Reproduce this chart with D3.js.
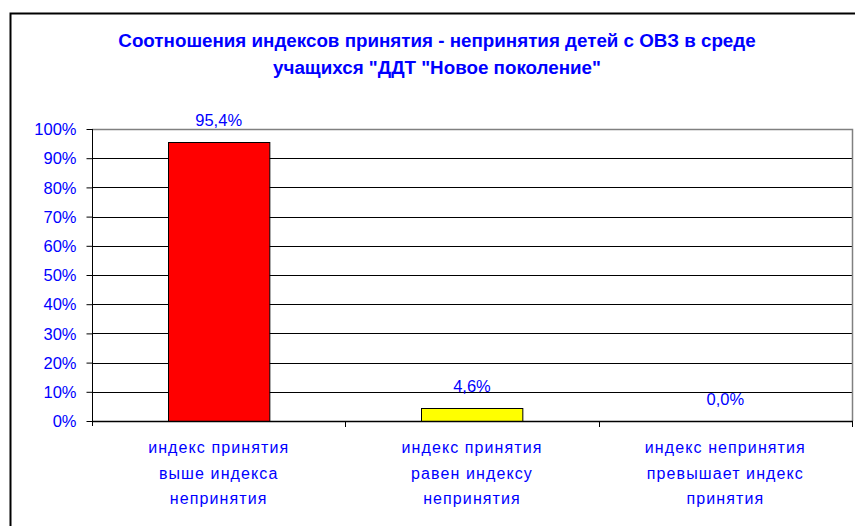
<!DOCTYPE html>
<html>
<head>
<meta charset="utf-8">
<script src="https://cdn.jsdelivr.net/npm/d3@7"></script>
<style>
  body { margin: 0; background: #fff; }
  text { font-family: "Liberation Sans", Arial, sans-serif; fill: #0000ff; }
</style>
</head>
<body>
<div id="chart"></div>
<script>
// chart data
const categories = [
    ["индекс принятия", "выше индекса", "непринятия"],
    ["индекс принятия", "равен индексу", "непринятия"],
    ["индекс непринятия", "превышает индекс", "принятия"]
];
const values = [95.4, 4.6, 0.0];
const barColors = ["#ff0000", "#ffff00", "#ffff00"];
const yTicks = [0, 10, 20, 30, 40, 50, 60, 70, 80, 90, 100];
const titleLines = [
    "Соотношения индексов принятия - непринятия детей с ОВЗ в среде",
    "учащихся \"ДДТ \"Новое поколение\""
];

const width = 855;
const height = 526;
const plot = { left: 92, right: 852, top: 129, bottom: 421 };

const svg = d3.select("#chart")
    .append("svg")
    .attr("width", width)
    .attr("height", height);

// outer chart frame (runs off the right/bottom edge)
svg.append("rect")
    .attr("x", 10.5).attr("y", 13.5)
    .attr("width", 870).attr("height", 540)
    .attr("fill", "none")
    .attr("stroke", "#000")
    .attr("stroke-width", 2);

// title
svg.selectAll(".title")
    .data(titleLines)
    .enter()
    .append("text")
    .attr("class", "title")
    .attr("x", 437)
    .attr("y", (d, i) => 47 + i * 27)
    .attr("text-anchor", "middle")
    .attr("font-size", 18.8)
    .attr("font-weight", "bold")
    .text(d => d);

const x = d3.scaleBand()
    .domain(d3.range(categories.length))
    .range([plot.left, plot.right])
    .paddingInner(0.6)
    .paddingOuter(0.3);

const xOuter = d3.scaleBand()
    .domain(d3.range(categories.length))
    .range([plot.left, plot.right]);

const y = d3.scaleLinear()
    .domain([0, 100])
    .range([plot.bottom, plot.top]);

// gridlines
svg.selectAll(".grid")
    .data(yTicks.filter(t => t > 0 && t < 100))
    .enter()
    .append("line")
    .attr("x1", plot.left).attr("x2", plot.right)
    .attr("y1", d => Math.round(y(d)) + 0.5)
    .attr("y2", d => Math.round(y(d)) + 0.5)
    .attr("stroke", "#000");

// plot area border (top + right, grey)
svg.append("path")
    .attr("d", `M${plot.left},${plot.top + 0.5}H${plot.right + 0.5}V${plot.bottom}`)
    .attr("fill", "none")
    .attr("stroke", "#808080")
    .attr("stroke-width", 1.5);

// bars
svg.selectAll(".bar")
    .data(values)
    .enter()
    .append("rect")
    .attr("class", "bar")
    .attr("x", (d, i) => Math.round(x(i)) + 0.5)
    .attr("width", x.bandwidth())
    .attr("y", d => Math.round(y(d)) + 0.5)
    .attr("height", d => plot.bottom - Math.round(y(d)))
    .attr("fill", (d, i) => barColors[i])
    .attr("stroke", "#000")
    .attr("stroke-width", 1)
    .attr("visibility", d => d > 0 ? "visible" : "hidden");

// value labels
svg.selectAll(".val")
    .data(values)
    .enter()
    .append("text")
    .attr("x", (d, i) => x(i) + x.bandwidth() / 2)
    .attr("y", d => y(d) - 16)
    .attr("text-anchor", "middle")
    .attr("font-size", 16.5)
    .text(d => d.toFixed(1).replace(".", ",") + "%");

// y axis
const yAxis = svg.append("g")
    .attr("transform", `translate(${plot.left + 0.5},0)`)
    .call(d3.axisLeft(y).tickValues(yTicks).tickSize(6).tickPadding(10)
        .tickFormat(d => d + "%"));
yAxis.select(".domain").attr("d", `M0,${plot.top}V${plot.bottom + 5}`).attr("stroke", "#000");
yAxis.selectAll(".tick line").attr("stroke", "#000");
yAxis.selectAll(".tick text")
    .attr("font-size", 16.5)
    .attr("font-family", "Liberation Sans, Arial, sans-serif")
    .attr("fill", "#0000ff")
    .attr("dy", "0.35em");

// x axis
svg.append("line")
    .attr("x1", plot.left).attr("x2", plot.right + 1)
    .attr("y1", plot.bottom + 0.5).attr("y2", plot.bottom + 0.5)
    .attr("stroke", "#000").attr("stroke-width", 1.5);

svg.selectAll(".xtick")
    .data(d3.range(1, categories.length + 1))
    .enter()
    .append("line")
    .attr("x1", d => Math.round(plot.left + d * xOuter.bandwidth()) + 0.5)
    .attr("x2", d => Math.round(plot.left + d * xOuter.bandwidth()) + 0.5)
    .attr("y1", plot.bottom).attr("y2", plot.bottom + 6)
    .attr("stroke", "#000");

// category labels
const catG = svg.selectAll(".cat")
    .data(categories)
    .enter()
    .append("text")
    .attr("text-anchor", "middle")
    .attr("font-size", 16)
    .attr("letter-spacing", 1.1);
catG.selectAll("tspan")
    .data((d, i) => d.map(line => ({ line, i })))
    .enter()
    .append("tspan")
    .attr("x", d => xOuter(d.i) + xOuter.bandwidth() / 2)
    .attr("y", (d, j) => 453 + j * 25.5)
    .text(d => d.line);
</script>
</body>
</html>
